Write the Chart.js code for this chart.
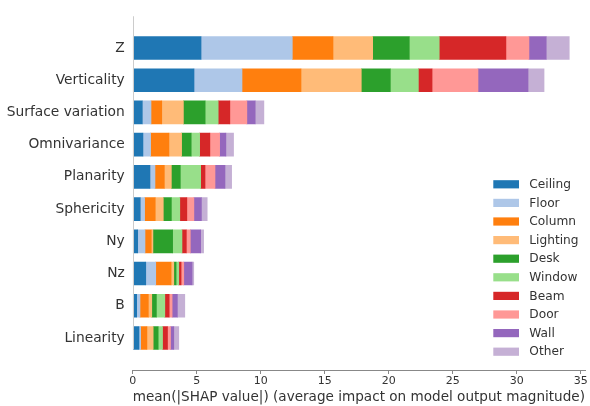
<!DOCTYPE html>
<html>
<head>
<meta charset="utf-8">
<script src="https://cdn.jsdelivr.net/npm/chart.js@4.4.1/dist/chart.umd.min.js"></script>
<style>
  html, body { margin: 0; padding: 0; background: #fff; }
  #wrap { width: 590px; height: 406px; position: relative; }
</style>
</head>
<body>
<div id="wrap"><canvas id="c" width="590" height="406"></canvas></div>
<script>
// Point-cloud features, ordered by total mean(|SHAP|)
const features = ["Z", "Verticality", "Surface variation", "Omnivariance", "Planarity",
                  "Sphericity", "Ny", "Nz", "B", "Linearity"];

// Per-class mean(|SHAP value|), one entry per feature above
const ceiling  = [5.34, 4.79, 0.75, 0.80, 1.35, 0.59, 0.39, 1.02, 0.31, 0.49];
const floor    = [7.13, 3.75, 0.68, 0.60, 0.39, 0.34, 0.57, 0.78, 0.26, 0.13];
const column   = [3.18, 4.61, 0.84, 1.43, 0.73, 0.83, 0.49, 1.20, 0.65, 0.49];
const lighting = [3.10, 4.71, 1.69, 0.99, 0.55, 0.63, 0.13, 0.21, 0.27, 0.49];
const desk     = [2.86, 2.27, 1.70, 0.75, 0.70, 0.63, 1.54, 0.18, 0.36, 0.39];
const windowC  = [2.34, 2.19, 1.02, 0.66, 1.59, 0.66, 0.73, 0.21, 0.66, 0.34];
const beam     = [5.21, 1.07, 0.91, 0.80, 0.34, 0.55, 0.34, 0.18, 0.34, 0.39];
const door     = [1.80, 3.59, 1.33, 0.76, 0.78, 0.55, 0.31, 0.21, 0.23, 0.23];
const wall     = [1.35, 3.91, 0.65, 0.49, 0.78, 0.59, 0.81, 0.65, 0.41, 0.26];
const other    = [1.80, 1.25, 0.68, 0.60, 0.52, 0.45, 0.23, 0.13, 0.58, 0.39];

const classNames = ["Ceiling", "Floor", "Column", "Lighting", "Desk",
                    "Window", "Beam", "Door", "Wall", "Other"];
const classValues = [ceiling, floor, column, lighting, desk, windowC, beam, door, wall, other];
const xTicks = [0, 5, 10, 15, 20, 25, 30, 35];

// tab20 palette pairs
const colors = ["#1f77b4", "#aec7e8", "#ff7f0e", "#ffbb78", "#2ca02c",
                "#98df8a", "#d62728", "#ff9896", "#9467bd", "#c5b0d5"];

const FONT = "'DejaVu Sans', 'Liberation Sans', sans-serif";
const TEXT = "#333333";

const datasets = classNames.map((name, k) => ({
  label: name,
  data: classValues[k].map((v, i) => ({ x: v, y: i })),
  backgroundColor: colors[k],
  borderWidth: 0,
  barThickness: 23
}));

// Left spine (stops at the last bar) and the class legend at lower right
const decor = {
  id: 'decor',
  afterDraw(chart) {
    const ctx = chart.ctx;
    const area = chart.chartArea;
    const y = chart.scales.y;
    ctx.save();
    ctx.strokeStyle = "#cccccc";
    ctx.lineWidth = 1;
    ctx.beginPath();
    const sx = Math.round(area.left) + 0.5;
    ctx.moveTo(sx, area.top);
    ctx.lineTo(sx, y.getPixelForValue(features.length - 1 + 0.36));
    ctx.stroke();

    const lx = 493.3, ly = 184.3, step = 18.6;
    ctx.font = "12.2px " + FONT;
    ctx.textBaseline = "middle";
    ctx.textAlign = "left";
    chart.data.datasets.forEach((ds, k) => {
      const cy = ly + k * step;
      ctx.fillStyle = ds.backgroundColor;
      ctx.fillRect(lx, cy - 4.1, 25.7, 8.2);
      ctx.fillStyle = TEXT;
      ctx.fillText(ds.label, 529.3, cy + 0.5);
    });
    ctx.restore();
  }
};

new Chart(document.getElementById('c'), {
  type: 'bar',
  data: { datasets },
  plugins: [decor],
  options: {
    indexAxis: 'y',
    responsive: false,
    animation: false,
    devicePixelRatio: 1,
    layout: { padding: { top: 13, right: 5, left: 0, bottom: 0 } },
    plugins: { legend: { display: false }, tooltip: { enabled: false } },
    scales: {
      x: {
        type: 'linear',
        stacked: true,
        min: 0,
        max: 35.34,
        afterBuildTicks: s => { s.ticks = xTicks.map(v => ({ value: v })); },
        afterFit: s => { s.height = 36; },
        grid: { drawOnChartArea: false, drawTicks: true, tickLength: 4, color: "#888888" },
        border: { display: true, color: "#888888", width: 1 },
        ticks: { font: { family: FONT, size: 11 }, color: TEXT, padding: 1, maxRotation: 0 },
        title: {
          display: true,
          text: "mean(|SHAP value|) (average impact on model output magnitude)",
          font: { family: FONT, size: 13.8 },
          color: TEXT,
          padding: { top: 0, bottom: 0 }
        }
      },
      y: {
        type: 'linear',
        stacked: true,
        reverse: true,
        offset: false,
        min: -0.984,
        max: 9.994,
        afterBuildTicks: s => { s.ticks = features.map((_, i) => ({ value: i })); },
        afterFit: s => { s.width = 132.7; },
        grid: { display: false, drawTicks: false },
        border: { display: false },
        ticks: {
          autoSkip: false,
          padding: 8,
          font: { family: FONT, size: 13.8 },
          color: TEXT,
          callback: v => features[v]
        }
      }
    }
  }
});
</script>
</body>
</html>
